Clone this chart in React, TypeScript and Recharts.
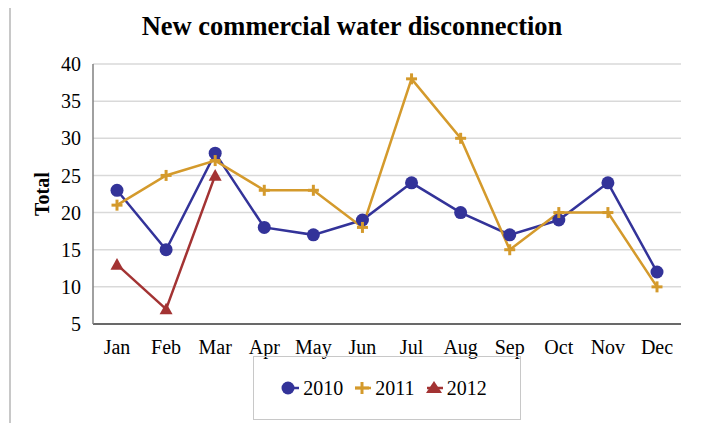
import { LineChart, Line, XAxis, YAxis, CartesianGrid } from 'recharts';

const months = ['Jan', 'Feb', 'Mar', 'Apr', 'May', 'Jun', 'Jul', 'Aug', 'Sep', 'Oct', 'Nov', 'Dec'];
const values2010 = [23, 15, 28, 18, 17, 19, 24, 20, 17, 19, 24, 12];
const values2011 = [21, 25, 27, 23, 23, 18, 38, 30, 15, 20, 20, 10];
const values2012 = [13, 7, 25];
const yTicks = [5, 10, 15, 20, 25, 30, 35, 40];

const C2010 = '#333399';
const C2011 = '#d49a2c';
const C2012 = '#a33333';
const FONT = '"Liberation Serif", "Times New Roman", serif';

const data = months.map((m, i) => ({
    month: m,
    y2010: values2010[i],
    y2011: values2011[i],
    y2012: i < values2012.length ? values2012[i] : null,
}));

const CircleDot = (p: any) => {
    if (p.cx == null || p.cy == null) return null;
    return <circle key={p.key} cx={p.cx} cy={p.cy} r={6.5} fill={C2010} />;
};

const PlusDot = (p: any) => {
    if (p.cx == null || p.cy == null) return null;
    const s = 5.5;
    return (
        <g key={p.key} stroke={C2011} strokeWidth={3}>
            <line x1={p.cx - s} y1={p.cy} x2={p.cx + s} y2={p.cy} />
            <line x1={p.cx} y1={p.cy - s} x2={p.cx} y2={p.cy + s} />
        </g>
    );
};

const TriDot = (p: any) => {
    if (p.cx == null || p.cy == null) return null;
    const s = 6.5;
    return (
        <polygon key={p.key}
            points={`${p.cx},${p.cy - s} ${p.cx + s},${p.cy + s * 0.8} ${p.cx - s},${p.cy + s * 0.8}`}
            fill={C2012} />
    );
};

const LegendItem = ({ label, color, shape }: { label: string, color: string, shape: string }) => (
    <div style={{ display: 'flex', alignItems: 'center', marginRight: 8 }}>
        <svg width={22} height={16}>
            <line x1={4} y1={8} x2={20} y2={8} stroke={color} strokeWidth={2.5} />
            {shape === 'circle' && <circle cx={9} cy={8} r={6.5} fill={color} />}
            {shape === 'plus' && (
                <g stroke={color} strokeWidth={3}>
                    <line x1={4} y1={8} x2={18} y2={8} />
                    <line x1={11} y1={2} x2={11} y2={14} />
                </g>
            )}
            {shape === 'tri' && <polygon points="11,1 19,13 3,13" fill={color} />}
        </svg>
        <span style={{ marginLeft: 2 }}>{label}</span>
    </div>
);

const App = () => {
    return (
        <div style={{ position: 'relative', width: 701, height: 431, margin: -8, background: '#fff', fontFamily: FONT, overflow: 'hidden' }}>
            {/* outer chart border */}
            <div style={{ position: 'absolute', left: 9, top: 5, width: 686, height: 440, border: '2px solid #c8c8c8', boxSizing: 'border-box' }} />
            <div style={{ position: 'absolute', left: 0, top: 11, width: 704, textAlign: 'center', fontWeight: 'bold', fontSize: 26.5 }}>
                New commercial water disconnection
            </div>
            <LineChart
                width={701}
                height={431}
                data={data}
                margin={{ top: 64, right: 20, left: 53, bottom: 77 }}
                style={{ position: 'absolute', left: 0, top: 0, fontFamily: FONT }}
            >
                <CartesianGrid vertical={false} stroke="#d9d9d9" strokeWidth={1.5} />
                <XAxis
                    dataKey="month"
                    height={30}
                    padding={{ left: 24, right: 24 }}
                    tickLine={false}
                    stroke="#404040"
                    strokeWidth={1.5}
                    tick={{ fill: '#000', fontSize: 20, fontFamily: FONT }}
                    tickMargin={10}
                    interval={0}
                />
                <YAxis
                    width={40}
                    domain={[5, 40]}
                    ticks={yTicks}
                    interval={0}
                    tickLine={false}
                    stroke="#808080"
                    strokeWidth={1.5}
                    tick={{ fill: '#000', fontSize: 20, fontFamily: FONT }}
                    tickMargin={6}
                    label={{ value: 'Total', angle: -90, position: 'insideLeft', dx: -16, dy: 22, style: { fontWeight: 'bold', fontSize: 20, fontFamily: FONT, fill: '#000' } }}
                />
                <Line dataKey="y2010" stroke={C2010} strokeWidth={2.5} dot={CircleDot} isAnimationActive={false} />
                <Line dataKey="y2011" stroke={C2011} strokeWidth={2.5} dot={PlusDot} isAnimationActive={false} />
                <Line dataKey="y2012" stroke={C2012} strokeWidth={2.5} dot={TriDot} isAnimationActive={false} />
            </LineChart>
            <div style={{
                position: 'absolute', left: 253, top: 356, width: 268, height: 64, boxSizing: 'border-box',
                border: '1.5px solid #c8c8c8', display: 'flex', alignItems: 'center', justifyContent: 'center', fontSize: 20,
            }}>
                <LegendItem label="2010" color={C2010} shape="circle" />
                <LegendItem label="2011" color={C2011} shape="plus" />
                <LegendItem label="2012" color={C2012} shape="tri" />
            </div>
        </div>
    );
};

export default App;
